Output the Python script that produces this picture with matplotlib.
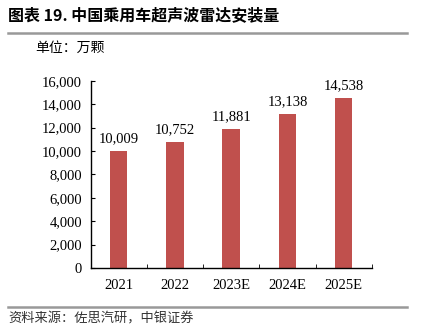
import matplotlib
matplotlib.use('Agg')
from matplotlib import pyplot as plt
from matplotlib.lines import Line2D
import numpy as np

years = ['2021', '2022', '2023E', '2024E', '2025E']
installs = [10009, 10752, 11881, 13138, 14538]
yticks = [0, 2000, 4000, 6000, 8000, 10000, 12000, 14000, 16000]

cjk = ['Noto Sans CJK SC', 'DejaVu Sans']
serif = 'Liberation Serif'

fig = plt.figure(figsize=(4.23, 3.30), dpi=100)
ax = fig.add_axes([0.214, 0.188, 0.665, 0.567])

x = np.arange(len(years))
ax.bar(x, installs, width=0.31, color='#C0504D')
for xi, v in zip(x, installs):
    ax.text(xi, v + 500, f'{v:,}', ha='center', va='bottom',
            family=serif, fontsize=10.5)

ax.set_xlim(-0.5, len(years) - 0.5)
ax.set_ylim(0, 16000)
ax.set_yticks(yticks)
ax.set_yticklabels([f'{t:,}' for t in yticks], family=serif, fontsize=10.5)
ax.set_xticks(x)
ax.set_xticklabels(years, family=serif, fontsize=10.5)
ax.tick_params(axis='x', length=0, pad=8)
ax.set_xticks(np.arange(len(years)) + 0.5, minor=True)
ax.tick_params(axis='x', which='minor', direction='in', length=3)
ax.tick_params(axis='y', direction='in', length=3, pad=6)
for s in ['top', 'right']:
    ax.spines[s].set_visible(False)
for s in ['left', 'bottom']:
    ax.spines[s].set_linewidth(1.0)

fig.text(0.019, 0.955, '图表 19. 中国乘用车超声波雷达安装量', family=cjk,
         fontsize=11.5, fontweight='bold', va='center')
fig.add_artist(Line2D([0.019, 0.962], [0.9, 0.9], color='#999999', lw=1.8))
fig.text(0.083, 0.855, '单位：万颗', family=cjk, fontsize=10, va='center')
fig.add_artist(Line2D([0.019, 0.962], [0.07, 0.07], color='#999999', lw=1.8))
fig.text(0.019, 0.032, '资料来源：佐思汽研，中银证券', family=cjk,
         fontsize=9.5, va='center', color='#333333')

plt.savefig('out.png', dpi=100)
